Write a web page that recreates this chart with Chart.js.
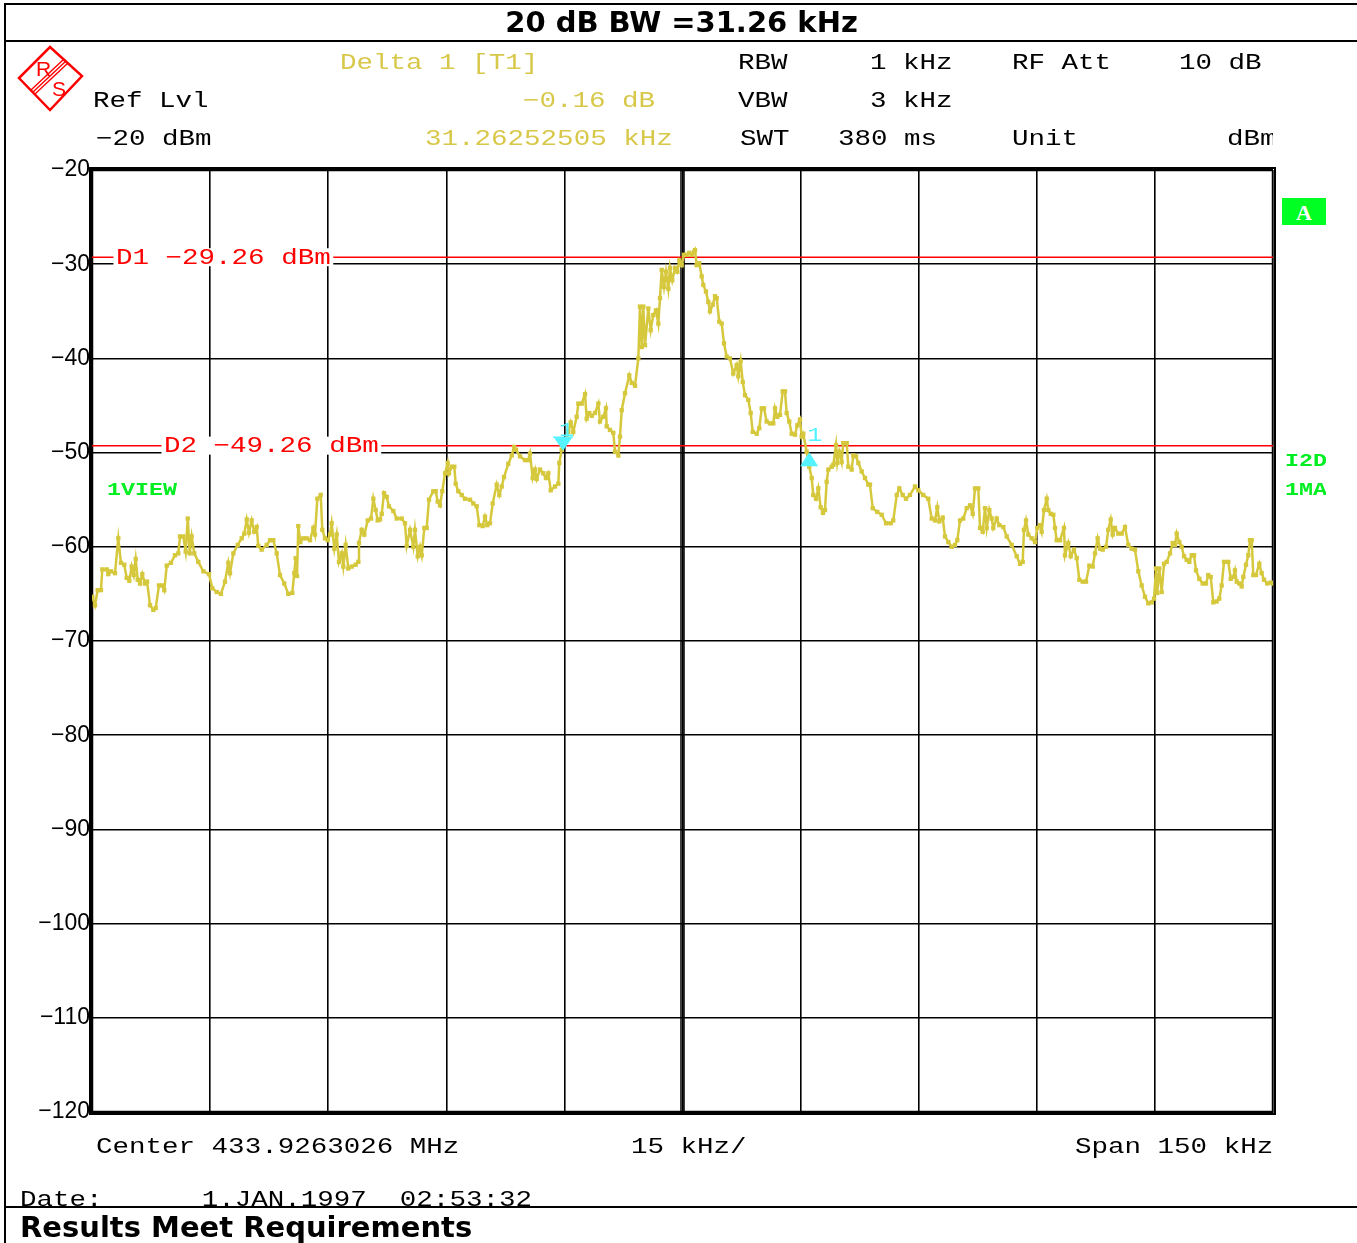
<!DOCTYPE html>
<html>
<head>
<meta charset="utf-8">
<script src="https://cdn.jsdelivr.net/npm/chart.js@4.4.1/dist/chart.umd.min.js"></script>
<style>
  html, body { margin: 0; padding: 0; background: #fff; }
  #page { position: relative; width: 1357px; height: 1243px; overflow: hidden; background: #fff; }
  #plot { position: absolute; left: 0; top: 0; }
  .t { position: absolute; white-space: pre; line-height: 30px; height: 30px; }
  .mono { font-family: "Liberation Mono", monospace; font-size: 21.5px; transform: scaleX(1.28); transform-origin: 0 50%; }
  .yel { color: #d8c84a; }
  .grn { color: #00ee22; font-family: "Liberation Mono", monospace; font-weight: bold; font-size: 19px;
         transform: scaleX(1.23); transform-origin: 0 50%; }
  .clip { position: absolute; overflow: hidden; height: 30px; }
  .head { font-family: "DejaVu Sans", sans-serif; font-weight: bold; font-size: 29px; line-height: 34px; height: 34px; }
  .hl { position: absolute; background: #000; }
</style>
</head>
<body>
<div id="page">
  <canvas id="plot" width="1357" height="1243"></canvas>

  <div class="hl" style="left:4px;top:3px;width:1353px;height:2px"></div>
  <div class="hl" style="left:4px;top:3px;width:2px;height:1240px"></div>
  <div class="hl" style="left:4px;top:40px;width:1353px;height:2px"></div>
  <div class="hl" style="left:4px;top:1206px;width:1353px;height:2px"></div>

  <div class="t head" style="left:6px;width:1351px;top:5px;text-align:center">20 dB BW =31.26 kHz</div>

  <svg style="position:absolute;left:16px;top:44px" width="70" height="70" viewBox="16 44 70 70">
    <polygon points="50,47 82,76 50,110 19,78" fill="none" stroke="#f00" stroke-width="2.5"/>
    <line x1="31" y1="90" x2="64" y2="59" stroke="#f00" stroke-width="1.4"/>
    <line x1="33" y1="92" x2="66" y2="61" stroke="#f00" stroke-width="1.4"/>
    <line x1="35" y1="94" x2="68" y2="63" stroke="#f00" stroke-width="1.4"/>
    <text x="36" y="76" fill="#f00" font-family="Liberation Sans" font-size="21">R</text>
    <text x="52" y="96" fill="#f00" font-family="Liberation Sans" font-size="21">S</text>
  </svg>

  <div class="t mono yel" style="left:340px;top:48px">Delta 1 [T1]</div>
  <div class="t mono" style="left:738px;top:48px">RBW</div>
  <div class="t mono" style="left:870px;top:48px">1 kHz</div>
  <div class="t mono" style="left:1012px;top:48px">RF Att</div>
  <div class="t mono" style="left:1179px;top:48px">10 dB</div>

  <div class="t mono" style="left:93px;top:86px">Ref Lvl</div>
  <div class="t mono yel" style="left:523px;top:86px">−0.16 dB</div>
  <div class="t mono" style="left:738px;top:86px">VBW</div>
  <div class="t mono" style="left:870px;top:86px">3 kHz</div>

  <div class="t mono" style="left:96px;top:124px">−20 dBm</div>
  <div class="t mono yel" style="left:425px;top:124px">31.26252505 kHz</div>
  <div class="t mono" style="left:740px;top:124px">SWT</div>
  <div class="t mono" style="left:838px;top:124px">380 ms</div>
  <div class="t mono" style="left:1012px;top:124px">Unit</div>
  <div class="clip" style="left:1227px;top:124px;width:46px"><div class="t mono" style="left:0;top:0">dBm</div></div>

  <div style="position:absolute;left:1282px;top:198px;width:44px;height:27px;background:#00ff22;color:#fff;
       font-family:'Liberation Serif',serif;font-weight:bold;font-size:22px;line-height:29px;text-align:center">A</div>
  <div class="clip" style="left:107px;top:475px;width:70px"><div class="t grn" style="left:0;top:0">1VIEW</div></div>
  <div class="clip" style="left:1285px;top:446px;width:41px"><div class="t grn" style="left:0;top:0">I2D</div></div>
  <div class="clip" style="left:1285px;top:475px;width:41px"><div class="t grn" style="left:0;top:0">1MA</div></div>

  <div class="t mono" style="left:96px;top:1132px">Center 433.9263026 MHz</div>
  <div class="t mono" style="left:631px;top:1132px">15 kHz/</div>
  <div class="t mono" style="left:1075px;top:1132px">Span 150 kHz</div>
  <div class="t mono" style="left:20px;top:1185px">Date:      1.JAN.1997  02:53:32</div>

  <div class="t head" style="left:20px;top:1210px">Results Meet Requirements</div>
</div>

<script>
// sweep frequency offsets from center (kHz) and trace level (dBm)
const freqKHz = [
  -74.96, -74.62, -74.28, -73.86, -73.69, -73.13, -72.93, -72.59, -72.08, -71.66,
  -71.32, -70.90, -70.59, -70.26, -69.96, -69.70, -69.45, -69.19, -68.90, -68.61,
  -68.27, -68.01, -67.63, -67.21, -66.91, -66.49, -66.07, -65.82, -65.51, -64.97,
  -64.46, -64.04, -63.82, -63.40, -63.10, -62.84, -62.59, -62.34, -62.01, -61.50,
  -60.86, -60.14, -59.72, -59.16, -58.62, -58.11, -57.69, -57.47, -57.05, -56.49,
  -55.99, -55.66, -55.35, -55.06, -54.72, -54.39, -54.08, -53.88, -53.45, -52.81,
  -52.39, -51.97, -51.54, -51.12, -50.58, -50.07, -49.56, -49.31, -49.13, -48.96,
  -48.80, -48.54, -48.16, -47.73, -47.31, -46.89, -46.68, -46.38, -45.95, -45.75,
  -45.41, -45.06, -44.77, -44.56, -44.22, -43.92, -43.63, -43.28, -43.08, -42.78,
  -42.45, -42.02, -41.51, -41.18, -41.09, -40.75, -40.41, -39.98, -39.56, -39.27,
  -38.97, -38.71, -38.42, -38.20, -37.91, -37.57, -37.28, -36.73, -36.30, -35.66,
  -35.25, -35.03, -34.61, -34.19, -33.98, -33.63, -33.34, -33.12, -32.79, -32.49,
  -32.20, -31.65, -31.35, -31.09, -30.80, -30.51, -30.16, -29.82, -29.66, -29.31,
  -28.98, -28.81, -28.48, -28.04, -27.62, -26.99, -26.57, -26.14, -25.81, -25.38,
  -25.08, -24.79, -24.45, -24.11, -23.60, -23.27, -22.96, -22.67, -22.13, -21.69,
  -21.40, -21.15, -20.64, -20.00, -19.59, -19.37, -19.03, -18.73, -18.52, -18.10,
  -17.68, -17.34, -17.04, -16.74, -16.19, -15.77, -15.65, -15.34, -15.05, -14.71,
  -14.50, -14.20, -13.87, -13.44, -13.23, -12.80, -12.38, -12.17, -11.84, -11.53,
  -11.11, -10.69, -10.48, -10.06, -9.72, -9.63, -9.21, -8.79, -8.57, -8.15,
  -7.94, -7.72, -7.30, -6.76, -6.45, -6.03, -5.61, -5.40, -5.18, -4.98,
  -4.76, -4.34, -4.04, -3.71, -3.37, -3.07, -2.86, -2.64, -2.35, -2.10,
  -1.80, -1.59, -1.30, -0.95, -0.66, -0.41, -0.10, 0.19, 0.53, 0.86,
  1.17, 1.46, 1.59, 1.80, 2.13, 2.44, 2.64, 2.98, 3.28, 3.49,
  3.84, 4.13, 4.34, 4.67, 4.98, 5.27, 5.61, 6.03, 6.45, 6.88,
  7.09, 7.39, 7.65, 7.94, 8.36, 8.66, 8.92, 9.42, 9.75, 10.06,
  10.35, 10.69, 11.11, 11.53, 11.75, 12.04, 12.38, 12.73, 13.02, 13.23,
  13.56, 13.87, 14.29, 14.58, 14.92, 15.14, 15.34, 15.77, 16.10, 16.41,
  16.61, 16.96, 17.25, 17.55, 17.84, 18.10, 18.31, 18.52, 18.95, 19.15,
  19.50, 19.66, 19.92, 20.22, 20.42, 20.86, 21.06, 21.49, 21.69, 22.04,
  22.33, 22.76, 23.18, 23.60, 23.81, 24.16, 24.74, 25.30, 25.85, 26.44,
  26.77, 27.21, 27.54, 27.97, 28.39, 28.89, 29.53, 29.95, 30.58, 31.22,
  31.65, 32.07, 32.36, 32.62, 33.05, 33.34, 33.76, 34.19, 34.61, 34.90,
  35.25, 35.66, 36.10, 36.52, 36.86, 37.15, 37.57, 37.79, 38.13, 38.42,
  38.64, 38.97, 39.27, 39.47, 39.91, 40.24, 40.75, 41.18, 41.81, 42.45,
  42.87, 43.21, 43.37, 43.63, 43.92, 44.35, 44.77, 45.06, 45.41, 45.62,
  45.91, 46.26, 46.46, 46.77, 47.10, 47.31, 47.53, 47.95, 48.45, 48.58,
  49.00, 49.31, 49.72, 50.07, 50.40, 50.83, 51.25, 51.67, 52.10, 52.39,
  52.73, 53.03, 53.37, 53.79, 54.08, 54.39, 54.64, 54.93, 55.35, 55.78,
  56.20, 56.62, 57.05, 57.47, 57.89, 58.32, 58.74, 59.16, 59.59, 59.89,
  60.14, 60.30, 60.56, 60.86, 61.16, 61.50, 61.92, 62.26, 62.55, 62.77,
  63.10, 63.40, 63.70, 64.04, 64.37, 64.67, 64.97, 65.22, 65.64, 66.07,
  66.49, 66.78, 67.09, 67.42, 67.85, 68.18, 68.48, 68.78, 69.32, 69.63,
  69.96, 70.17, 70.39, 70.72, 71.02, 71.23, 71.57, 71.86, 72.08, 72.29,
  72.50, 72.84, 73.26, 73.56, 73.86, 74.28, 74.71, 75.00
];
const levelDbm = [
  -65.3, -66.2, -64.6, -64.6, -62.4, -62.4, -62.9, -62.6, -62.8, -59.1,
  -61.7, -61.9, -63.3, -63.6, -62.1, -63.0, -61.3, -63.5, -63.9, -62.9,
  -63.9, -63.7, -66.2, -66.7, -66.5, -64.1, -64.1, -64.6, -62.0, -61.7,
  -60.9, -60.7, -58.9, -58.9, -60.5, -57.0, -60.7, -58.9, -60.7, -61.6,
  -62.6, -62.9, -64.4, -64.8, -65.0, -63.7, -61.7, -62.8, -60.7, -59.8,
  -59.1, -58.6, -57.1, -58.5, -57.2, -58.4, -57.9, -59.9, -60.3, -59.8,
  -59.3, -59.3, -60.7, -63.0, -63.9, -65.0, -64.9, -62.8, -61.2, -63.1,
  -57.8, -59.5, -59.1, -59.1, -59.3, -58.0, -58.7, -54.9, -54.5, -58.2,
  -59.1, -59.3, -58.7, -57.5, -60.2, -58.7, -61.6, -60.7, -62.1, -59.8,
  -62.3, -62.1, -61.9, -61.6, -59.6, -58.2, -58.7, -57.2, -57.0, -54.9,
  -56.1, -57.2, -57.1, -56.5, -54.3, -54.7, -55.7, -56.2, -57.0, -57.0,
  -57.5, -59.9, -58.2, -60.0, -58.2, -61.0, -60.0, -60.9, -58.0, -58.0,
  -55.0, -54.1, -54.1, -55.2, -55.6, -54.1, -52.2, -51.1, -52.2, -51.5,
  -51.5, -53.3, -54.1, -54.5, -54.9, -55.0, -55.4, -55.7, -57.7, -57.8,
  -56.8, -57.7, -57.5, -55.4, -53.4, -54.5, -53.6, -52.6, -51.2, -50.3,
  -49.4, -49.7, -50.4, -50.8, -50.8, -50.1, -52.7, -51.8, -52.8, -51.8,
  -52.2, -52.7, -52.2, -54.0, -53.6, -53.3, -51.1, -49.7, -48.8, -48.7,
  -47.8, -46.8, -47.8, -46.2, -44.8, -44.8, -43.8, -46.4, -45.8, -46.1,
  -45.8, -44.8, -46.7, -46.2, -45.3, -47.2, -47.6, -47.9, -49.9, -50.3,
  -48.3, -45.5, -43.7, -41.8, -42.6, -42.9, -40.0, -34.5, -38.8, -34.5,
  -38.6, -34.7, -37.0, -35.4, -34.9, -36.3, -33.6, -30.6, -32.4, -30.8,
  -32.6, -30.4, -31.7, -30.4, -30.8, -29.6, -30.1, -29.0, -29.0, -28.8,
  -29.0, -28.7, -28.5, -30.1, -29.9, -31.3, -32.2, -32.9, -34.0, -35.0,
  -34.3, -33.4, -33.6, -36.1, -36.3, -38.4, -39.8, -40.0, -41.6, -40.7,
  -41.9, -40.3, -42.5, -43.9, -44.4, -45.8, -47.8, -48.0, -47.4, -45.3,
  -45.3, -46.7, -46.9, -46.9, -45.3, -46.2, -46.0, -43.5, -43.5, -45.8,
  -46.7, -48.0, -48.1, -47.1, -46.5, -48.3, -48.0, -49.9, -51.5, -52.7,
  -54.5, -54.9, -53.8, -55.8, -56.4, -56.1, -53.1, -51.8, -51.5, -51.3,
  -49.2, -51.1, -49.9, -51.0, -49.0, -49.0, -51.5, -51.8, -50.3, -50.4,
  -51.1, -52.0, -52.7, -53.4, -53.4, -55.9, -56.3, -56.6, -57.5, -57.5,
  -57.2, -54.5, -53.8, -54.5, -54.9, -54.5, -53.6, -54.0, -54.5, -54.9,
  -57.0, -57.2, -55.8, -57.3, -56.9, -58.9, -59.5, -60.0, -59.8, -59.3,
  -57.2, -57.0, -55.9, -55.6, -56.5, -53.8, -53.8, -58.0, -58.4, -55.9,
  -58.0, -56.1, -57.0, -58.0, -57.0, -57.7, -57.9, -58.9, -59.8, -61.0,
  -61.8, -61.6, -58.2, -57.2, -58.7, -59.1, -59.5, -58.0, -57.7, -58.4,
  -56.1, -54.9, -56.1, -56.5, -56.6, -58.0, -59.3, -59.3, -58.0, -60.9,
  -59.6, -61.0, -60.3, -61.2, -63.5, -63.7, -63.7, -62.0, -62.1, -60.7,
  -59.1, -60.2, -60.3, -60.0, -58.2, -57.1, -58.7, -58.0, -58.6, -58.6,
  -57.9, -59.8, -60.2, -60.3, -62.6, -64.1, -65.3, -66.0, -65.9, -65.5,
  -62.3, -64.9, -62.3, -64.8, -61.8, -61.6, -60.7, -59.6, -59.8, -58.6,
  -59.5, -60.0, -61.0, -61.4, -61.6, -60.9, -60.9, -62.5, -63.4, -63.9,
  -63.9, -63.0, -63.2, -65.9, -65.8, -65.5, -64.1, -61.6, -61.6, -63.4,
  -63.2, -62.5, -63.7, -63.9, -64.2, -63.2, -61.9, -60.9, -59.3, -59.3,
  -63.0, -63.0, -61.8, -62.8, -63.5, -63.9, -63.8, -63.9
];

// display lines and markers
const displayLines = [
  { name: "D1", level: -29.26 },
  { name: "D2", level: -49.26 }
];
const markerT1 = { freq: -15.17, level: -49.8 };
const markerD1 = { freq: 16.09, level: -49.96 };

const yTicks = [-20, -30, -40, -50, -60, -70, -80, -90, -100, -110, -120];

const tracePoints = freqKHz.map((f, i) => ({ x: f, y: levelDbm[i] }));

const FRAME = "#000";
const monoFont = '21.5px "Liberation Mono", monospace';

function stretchedText(ctx, text, x, y, color, font, sx, bg) {
  ctx.save();
  ctx.font = font || monoFont;
  ctx.textBaseline = "middle";
  ctx.translate(x, y);
  ctx.scale(sx || 1.28, 1);
  const w = ctx.measureText(text).width;
  if (bg !== false) {
    ctx.fillStyle = "#fff";
    ctx.fillRect(-2, -9, w + 4, 18);
  }
  ctx.fillStyle = color;
  ctx.fillText(text, 0, 1);
  ctx.restore();
}

const analyzerPlugin = {
  id: "analyzer",
  beforeDatasetsDraw(chart) {
    const { ctx, chartArea: a, scales } = chart;
    ctx.save();
    // double outer frame
    ctx.strokeStyle = FRAME;
    ctx.lineWidth = 2;
    ctx.strokeRect(a.left - 2, a.top - 2, a.right - a.left + 4, a.bottom - a.top + 4);
    ctx.lineWidth = 1.5;
    ctx.strokeRect(a.left + 0.5, a.top + 0.5, a.right - a.left - 1, a.bottom - a.top - 1);
    // double center line
    const cx = scales.x.getPixelForValue(0);
    ctx.lineWidth = 1.5;
    [cx - 1.5, cx + 1.5].forEach((x) => {
      ctx.beginPath(); ctx.moveTo(x, a.top); ctx.lineTo(x, a.bottom); ctx.stroke();
    });
    // display lines
    ctx.strokeStyle = "#ff0000";
    ctx.lineWidth = 1.5;
    displayLines.forEach((d) => {
      const y = scales.y.getPixelForValue(d.level);
      ctx.beginPath(); ctx.moveTo(a.left, y); ctx.lineTo(a.right, y); ctx.stroke();
    });
    ctx.restore();
    const y1 = scales.y.getPixelForValue(displayLines[0].level);
    const y2 = scales.y.getPixelForValue(displayLines[1].level);
    stretchedText(ctx, "D1 −29.26 dBm", 116, y1, "#ff0000");
    stretchedText(ctx, "D2 −49.26 dBm", 164, y2, "#ff0000");
  },
  afterDatasetsDraw(chart) {
    const { ctx, scales } = chart;
    ctx.save();
    ctx.fillStyle = "#55f2ff";
    ctx.strokeStyle = "#55f2ff";
    // T1 marker: down triangle, tip on trace
    let x = scales.x.getPixelForValue(markerT1.freq);
    let y = scales.y.getPixelForValue(markerT1.level);
    ctx.beginPath();
    ctx.moveTo(x, y); ctx.lineTo(x - 9, y - 13); ctx.lineTo(x + 9, y - 13); ctx.closePath(); ctx.fill();
    ctx.lineWidth = 1.5;
    ctx.beginPath(); ctx.moveTo(x - 10, y - 13.5); ctx.lineTo(x + 10, y - 13.5); ctx.stroke();
    ctx.restore();
    const markFont = '21px "Liberation Mono", monospace';
    stretchedText(ctx, "1", x - 4, y - 21, "#55f2ff", markFont, 1.2, false);
    // delta marker: up triangle
    x = scales.x.getPixelForValue(markerD1.freq);
    y = scales.y.getPixelForValue(markerD1.level);
    ctx.save();
    ctx.fillStyle = "#55f2ff";
    ctx.beginPath();
    ctx.moveTo(x, y); ctx.lineTo(x - 9, y + 14); ctx.lineTo(x + 9, y + 14); ctx.closePath(); ctx.fill();
    ctx.restore();
    stretchedText(ctx, "1", x - 2, y - 18, "#55f2ff", markFont, 1.2, false);
  }
};

new Chart(document.getElementById("plot"), {
  type: "line",
  data: {
    datasets: [{
      data: tracePoints,
      borderColor: "#d6c83c",
      backgroundColor: "#d6c83c",
      borderWidth: 2.5,
      pointRadius: 1.3,
      pointStyle: "rect",
      tension: 0,
      fill: false
    }]
  },
  options: {
    responsive: false,
    devicePixelRatio: 1,
    animation: false,
    events: [],
    layout: { padding: { top: 170, right: 84, bottom: 131, left: 0 } },
    plugins: { legend: { display: false }, tooltip: { enabled: false } },
    scales: {
      x: {
        type: "linear",
        min: -75,
        max: 75,
        ticks: { display: false, stepSize: 15 },
        grid: { color: "#000", lineWidth: 1.6, drawTicks: false },
        border: { display: true, color: "#000", width: 2 },
        afterFit: (s) => { s.height = 0; }
      },
      y: {
        min: -120,
        max: -20,
        afterBuildTicks: (s) => { s.ticks = yTicks.map((v) => ({ value: v })); },
        ticks: {
          color: "#000",
          padding: 2,
          font: { family: '"Liberation Sans", sans-serif', size: 23 },
          callback: (v) => String(v).replace("-", "−")
        },
        grid: { color: "#000", lineWidth: 1.6, drawTicks: false },
        border: { display: true, color: "#000", width: 2 },
        afterFit: (s) => { s.width = 92; }
      }
    }
  },
  plugins: [analyzerPlugin]
});
</script>
</body>
</html>
